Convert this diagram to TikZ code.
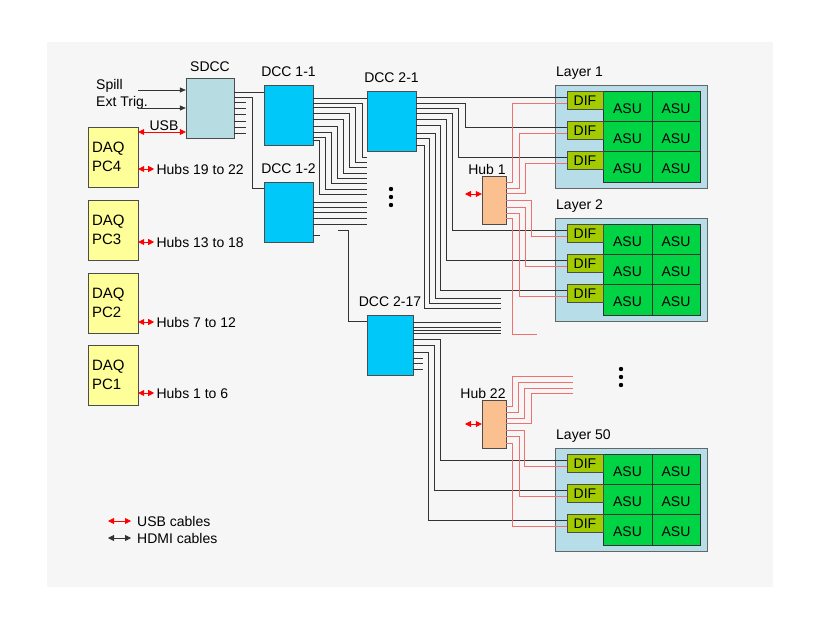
\documentclass[tikz,border=0pt]{standalone}
\usepackage{fontspec}
\setmainfont{Liberation Sans}
\usetikzlibrary{arrows.meta}
\definecolor{sdccblue}{HTML}{B7DDE3}
\definecolor{dccblue}{HTML}{00C8F8}
\definecolor{hubpeach}{HTML}{FAC090}
\definecolor{daqyellow}{HTML}{FFFF99}
\definecolor{layerblue}{HTML}{B7DDE8}
\definecolor{asugreen}{HTML}{00D444}
\definecolor{difgreen}{HTML}{A2CC00}
\definecolor{usbred}{HTML}{F07070}
\tikzset{
  box/.style = {draw=black!70, inner sep=0pt, font=\fontsize{14}{16}\selectfont},
  dcc/.style = {box, fill=dccblue, minimum width=49pt, minimum height=60pt},
  hub/.style = {box, fill=hubpeach, minimum width=24pt, minimum height=48pt},
  daq/.style = {box, fill=daqyellow, minimum width=50pt, minimum height=60pt, align=left, text width=42pt,
                font=\fontsize{15}{19}\selectfont},
  lbl/.style = {inner sep=0pt, font=\fontsize{14}{16}\selectfont},
  hdmi/.style = {draw=black!80, line width=0.7pt},
  usbw/.style = {draw=usbred, line width=0.7pt},
  usb/.style = {draw=red, line width=0.8pt, {Triangle[length=6pt,width=6pt]}-{Triangle[length=6pt,width=6pt]}}
}
\begin{document}
\begin{tikzpicture}[x=1pt, y=-1pt]
  \useasboundingbox (0,0) rectangle (820,629);
  \fill[gray!7] (47,42) rectangle (773,587);

  % trigger inputs and control boards
  \node[box, fill=sdccblue, minimum width=48pt, minimum height=60pt] (sdcc) at (210,108) {};
  \node[lbl] at (210,67) {SDCC};
  \node[lbl, anchor=west] at (96,86) {Spill};
  \node[lbl, anchor=west] at (96,103) {Ext Trig.};
  \draw[hdmi, -{Triangle[length=6pt,width=5pt]}] (138,90) -- (sdcc.west|-0,90);
  \draw[hdmi, -{Triangle[length=6pt,width=5pt]}] (138,108) -- (sdcc.west|-0,108);
  \node[dcc] (dcc11) at (288.5,115) {};
  \node[lbl] at (288.5,72) {DCC 1-1};
  \node[dcc] (dcc12) at (288.5,212) {};
  \node[lbl] at (288.5,169) {DCC 1-2};
  \node[dcc] (dcc21) at (391.5,121) {};
  \node[lbl] at (391.5,78) {DCC 2-1};
  \node[dcc, minimum width=46pt] (dcc217) at (390,345) {};
  \node[lbl] at (390,302) {DCC 2-17};
  \node[hub] (hub1) at (494,200) {};
  \node[lbl] at (487,169) {Hub 1};
  \node[hub] (hub22) at (494,424) {};
  \node[lbl] at (483,393) {Hub 22};

  % DAQ computers
  \foreach \y/\n/\ya/\t in {157/4/169/Hubs 19 to 22, 230/3/242/Hubs 13 to 18,
                            303/2/322/Hubs 7 to 12, 375/1/393/Hubs 1 to 6} {
    \node[daq] (daq\n) at (113,\y) {DAQ\\PC\n};
    \draw[usb] (daq\n.east|-0,\ya) -- ++(16,0) node[lbl, anchor=west, xshift=2pt] {\t};
  }
  \draw[usb] (daq4.east|-0,132) -- (sdcc.west|-0,132);
  \node[lbl] at (164,126) {USB};

  % detector layers
  \foreach \ly/\ln/\lt in {85/a/1, 218/b/2, 448/c/50} {
    \fill[layerblue] (555,\ly) rectangle (707,\ly+103);
    \draw[black!60] (555,\ly) rectangle (707,\ly+103);
    \node[lbl, anchor=west] at (556,\ly-12) {Layer \lt};
    \draw[black!80, fill=asugreen] (603,\ly+6) rectangle (700,\ly+97);
    \draw[black!80] (652,\ly+6) -- (652,\ly+97)
                    (603,\ly+36) -- (700,\ly+36) (603,\ly+66) -- (700,\ly+66);
    \foreach \k in {1,2,3} {
      \node[box, fill=difgreen, minimum width=36pt, minimum height=18pt] (dif\ln\k)
        at (585,\ly-14.5+30*\k) {DIF};
      \coordinate (b\ln\k) at ([yshift=3pt]dif\ln\k.west);
      \coordinate (r\ln\k) at ([yshift=-3pt]dif\ln\k.west);
      \node[lbl] at (627.5,\ly-6+30*\k) {ASU};
      \node[lbl] at (676,\ly-6+30*\k) {ASU};
    }
  }

  % HDMI cables
  \draw[hdmi] (sdcc.east|-0,92) -- (dcc11.west|-0,92);
  \draw[hdmi] (sdcc.east|-0,97) -| (252,188) -- (dcc12.west|-0,188);
  \foreach \y in {102,108,114,121,127,133}
    \draw[hdmi] (sdcc.east|-0,\y) -- (246,\y);
  \draw[hdmi] (dcc11.east|-0,98) -- (dcc21.west|-0,98);
  \foreach \ya/\x/\yb in {103/362/157,107/355/162,113/349/167,119/343/173,
                          126/337/178,132/331/183,137/325/189,140/319/194}
    \draw[hdmi] (dcc11.east|-0,\ya) -| (\x,\yb) -- (367,\yb);
  \foreach \y in {202,207,212,218,224}
    \draw[hdmi] (dcc12.east|-0,\y) -- (367,\y);
  \draw[hdmi] (dcc12.east|-0,235) -- ++(7,0);
  \draw[hdmi] (338,230) -| (348,321) -- (dcc217.west|-0,321);
  \draw[hdmi] (dcc21.east|-ba1) -- (ba1);
  \foreach \ya/\x/\t in {103/465/ba2,108/458/ba3,113/452/bb1,119/446/bb2,125/440/bb3}
    \draw[hdmi] (dcc21.east|-0,\ya) -| (\x,0|-\t) -- (\t);
  \foreach \ya/\x/\yb in {133/435/298,138/429/303,145/424/308}
    \draw[hdmi] (dcc21.east|-0,\ya) -| (\x,\yb) -- (501,\yb);
  \foreach \y in {322,327,330,333}
    \draw[hdmi] (dcc217.east|-0,\y) -- (501,\y);
  \foreach \ya/\x/\t in {339/440/bc1,345/434/bc2,352/428/bc3}
    \draw[hdmi] (dcc217.east|-0,\ya) -| (\x,0|-\t) -- (\t);
  \foreach \y in {358,363,369}
    \draw[hdmi] (dcc217.east|-0,\y) -- (423,\y);

  % USB cables from the hubs
  \foreach \ya/\x/\t in {182/512/ra1,188/519/ra2,193/525/ra3,200/531/rb1,207/525/rb2,213/519/rb3}
    \draw[usbw] (hub1.east|-0,\ya) -| (\x,0|-\t) -- (\t);
  \draw[usbw] (hub1.east|-0,218) -| (512,334) -- (537,334);
  \foreach \ya/\x/\yb in {406/512/376,412/518/382,418/524/388,423/531/393}
    \draw[usbw] (hub22.east|-0,\ya) -| (\x,\yb) -- (573,\yb);
  \foreach \ya/\x/\t in {430/524/rc1,436/519/rc2,443/512/rc3}
    \draw[usbw] (hub22.east|-0,\ya) -| (\x,0|-\t) -- (\t);
  \draw[usb] (465,194) -- (hub1.west|-0,194);
  \draw[usb] (465,424) -- (hub22.west|-0,424);

  % ellipsis dots
  \foreach \k in {0,1,2} {
    \fill (391,189+8*\k) circle[radius=2.2pt];
    \fill (621,369+8*\k) circle[radius=2.2pt];
  }

  % legend
  \draw[usb] (108,521) -- (131,521);
  \node[lbl, anchor=west] at (137,521) {USB cables};
  \draw[hdmi, line width=0.8pt, {Triangle[length=6pt,width=6pt]}-{Triangle[length=6pt,width=6pt]}] (108,538) -- (131,538);
  \node[lbl, anchor=west] at (137,538) {HDMI cables};
\end{tikzpicture}
\end{document}
